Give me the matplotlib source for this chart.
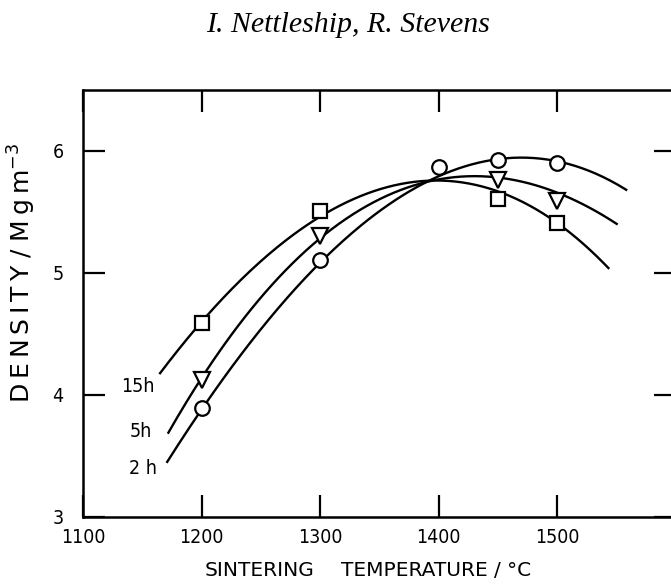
import numpy as np
import matplotlib
matplotlib.use("Agg")
import matplotlib.pyplot as plt

# measured densities (markers)
t_15h = [1200, 1300, 1450, 1500]
d_15h = [4.59, 5.51, 5.61, 5.41]
t_5h = [1200, 1300, 1450, 1500]
d_5h = [4.12, 5.30, 5.76, 5.59]
t_2h = [1200, 1300, 1400, 1450, 1500]
d_2h = [3.89, 5.11, 5.87, 5.93, 5.90]

# hand-drawn trend curves, sampled along their length
curve_t_15h = [1165, 1200, 1250, 1300, 1350, 1400, 1450, 1500, 1543]
curve_d_15h = [4.19, 4.59, 5.08, 5.47, 5.70, 5.77, 5.65, 5.40, 5.05]
curve_t_5h = [1172, 1200, 1250, 1300, 1350, 1400, 1450, 1500, 1550]
curve_d_5h = [3.71, 4.12, 4.78, 5.30, 5.62, 5.77, 5.77, 5.65, 5.41]
curve_t_2h = [1171, 1200, 1250, 1300, 1350, 1400, 1450, 1500, 1558]
curve_d_2h = [3.45, 3.88, 4.55, 5.08, 5.50, 5.80, 5.93, 5.92, 5.68]

curve_labels = ["15h", "5h", "2 h"]
label_pos = [(1146, 4.07), (1149, 3.70), (1151, 3.40)]

x_ticks = [1100, 1200, 1300, 1400, 1500]
y_ticks = [3, 4, 5, 6]

# x label is set word by word to get the wide spacing
xlabel_words = ["SINTERING", "TEMPERATURE", "/ °C"]
xlabel_x = [260, 414, 513]

ts = "\u2009"
ylabel = ts.join("DENSITY") + " / " + ts.join("Mgm") + "$^{-3}$"

lab = dict(family="DejaVu Sans", color="black")
narrow = dict(family="DejaVu Sans", fontstretch="condensed", color="black")

fig = plt.figure(figsize=(6.71, 5.87), dpi=100)
ax = fig.add_axes([83 / 671, 70 / 587, 593 / 671, 427 / 587])

series = [
    (curve_t_15h, curve_d_15h, t_15h, d_15h, "s", 10),
    (curve_t_5h, curve_d_5h, t_5h, d_5h, "v", 12),
    (curve_t_2h, curve_d_2h, t_2h, d_2h, "o", 10.5),
]
for ct, cd, t, d, m, ms in series:
    p = np.polyfit(ct, cd, 3)
    xx = np.linspace(ct[0], ct[-1], 200)
    ax.plot(xx, np.polyval(p, xx), color="black", lw=1.7, zorder=2)
    ax.plot(t, d, ls="none", marker=m, ms=ms, mfc="white", mec="black",
            mew=1.6, zorder=3)

for txt, (x, y) in zip(curve_labels, label_pos):
    ax.text(x, y, txt, fontsize=14, ha="center", va="center", **narrow)

ax.set_xlim(1100, 1600)
ax.set_ylim(3, 6.5)
ax.set_xticks(x_ticks)
ax.set_yticks(y_ticks)
ax.tick_params(direction="in", length=16, width=1.6, top=True, right=True)
ax.tick_params(axis="x", pad=8)
ax.tick_params(axis="y", pad=14)
for tl in ax.get_xticklabels() + ax.get_yticklabels():
    tl.set_fontsize(14)
    tl.set_fontstretch("condensed")
for s in ax.spines.values():
    s.set_linewidth(1.8)

fig.text(22 / 671, 1 - 273 / 587, ylabel, rotation=90,
         fontsize=18, ha="center", va="center", **lab)
for w, x in zip(xlabel_words, xlabel_x):
    fig.text(x / 671, 1 - 571 / 587, w, fontsize=14.5, ha="center",
             va="center", **lab)
fig.text(348 / 671, 1 - 25 / 587, "I. Nettleship, R. Stevens", fontsize=21.5,
         style="italic", family="Liberation Serif", ha="center", va="center")

fig.savefig("out.png", dpi=100)
